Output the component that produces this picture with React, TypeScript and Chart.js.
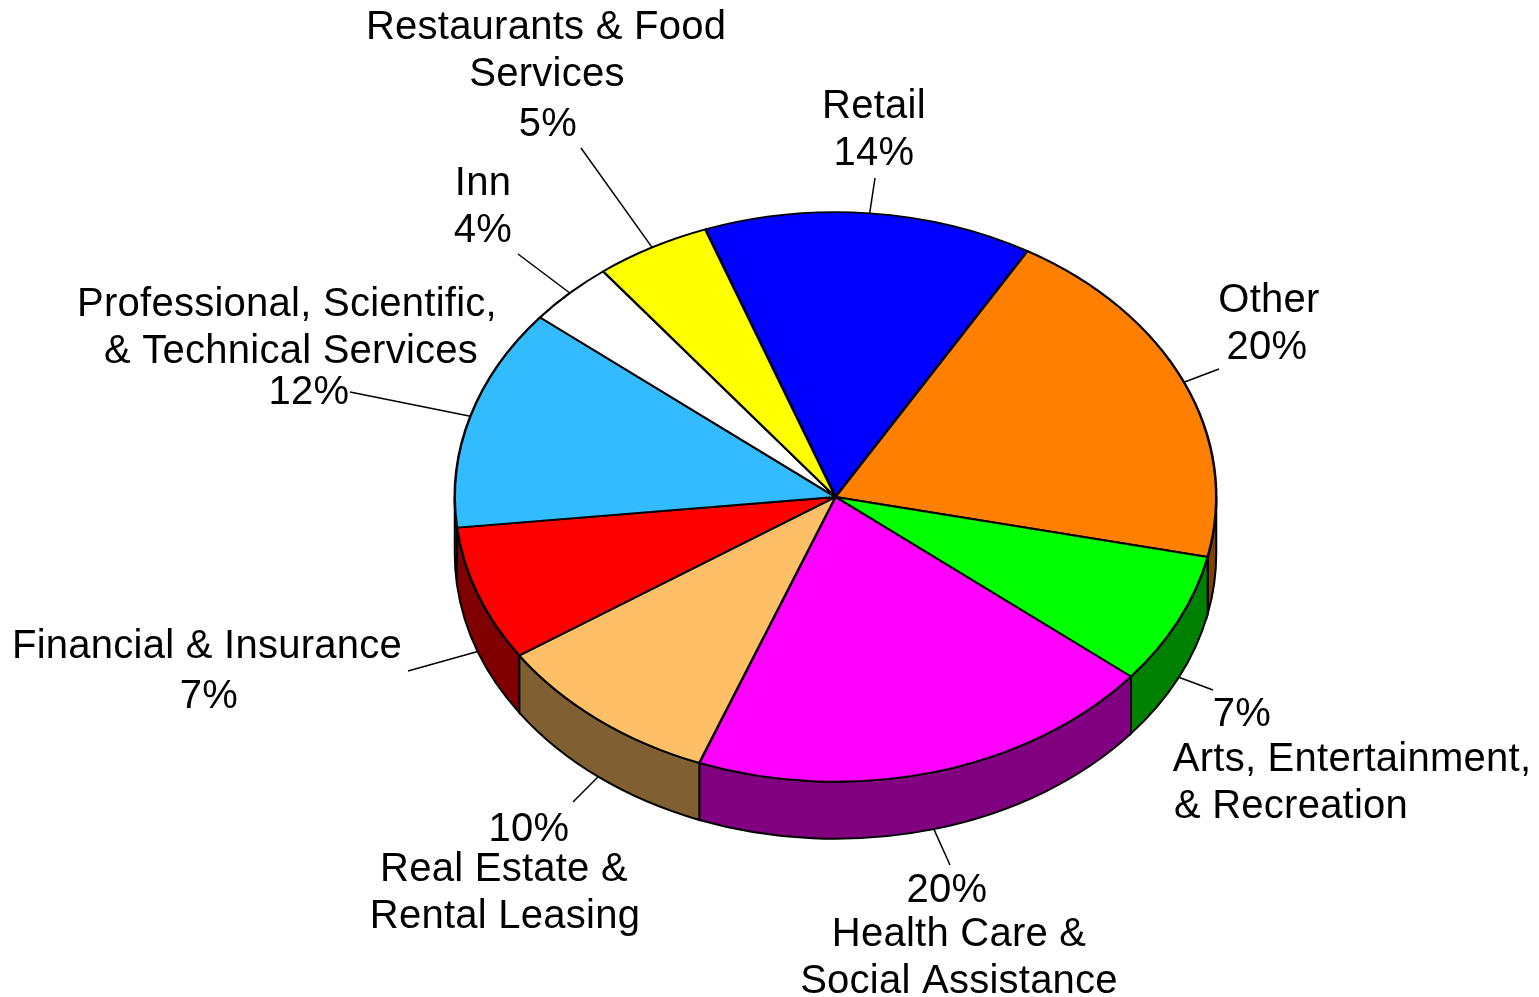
import React, { useEffect, useRef } from "react";
import { Chart, registerables } from "chart.js";

Chart.register(...registerables);

const categories = ["Retail", "Other", "Arts, Entertainment, & Recreation", "Health Care & Social Assistance", "Real Estate & Rental Leasing", "Financial & Insurance", "Professional, Scientific, & Technical Services", "Inn", "Restaurants & Food Services"];
const shares = [14, 20, 7.5, 20, 9.8, 7.7, 12.6, 3.7, 4.9];
const topColors = ["#0000FF", "#FF8000", "#00FF00", "#FF00FF", "#FFBF66", "#FF0000", "#33BBFF", "#FFFFFF", "#FFFF00"];
const sideColors = ["#000080", "#804000", "#008000", "#800080", "#806033", "#800000", "#1A5E80", "#808080", "#808000"];

// leader end point per category
const leaderEnds = [[875, 178], [1219, 369], [1213, 690], [950, 865], [573, 802], [408, 671], [350, 392], [518, 254], [581, 148]];
// text lines: text, centre x, baseline y
const labelLines: [string, number, number][] = [
  ["Restaurants & Food", 546, 39], ["Services", 547, 86], ["5%", 548, 136],
  ["Retail", 874, 118], ["14%", 874, 165],
  ["Inn", 483, 195], ["4%", 483, 242],
  ["Professional, Scientific,", 287, 316], ["& Technical Services", 291, 363], ["12%", 309, 404],
  ["Other", 1269, 312], ["20%", 1267, 359],
  ["Financial & Insurance", 207, 658], ["7%", 209, 708],
  ["7%", 1242, 726], ["Arts, Entertainment,", 1352, 771], ["& Recreation", 1291, 818],
  ["10%", 529, 841], ["Real Estate &", 504, 881], ["Rental Leasing", 505, 928],
  ["20%", 947, 902], ["Health Care &", 959, 946], ["Social Assistance", 959, 993],
];

const SQUASH = 0.748;
const DEPTH = 57;

const pie3d = {
  id: "pie3d",
  beforeDatasetsDraw(chart: any) {
    const ctx = chart.ctx;
    const arcs = chart.getDatasetMeta(0).data;
    ctx.save();
    arcs.forEach((el: any, i: number) => {
      const a0 = Math.max(el.startAngle, 0);
      const a1 = Math.min(el.endAngle, Math.PI);
      if (a1 <= a0) return;
      const ry = el.outerRadius * SQUASH;
      const cy = el.y * 1;
      ctx.beginPath();
      ctx.ellipse(el.x, cy, el.outerRadius, ry, 0, a0, a1);
      ctx.ellipse(el.x, cy + DEPTH, el.outerRadius, ry, 0, a1, a0, true);
      ctx.closePath();
      ctx.fillStyle = sideColors[i];
      ctx.fill();
      ctx.lineWidth = 2;
      ctx.strokeStyle = "#000";
      ctx.stroke();
    });
    ctx.restore();
    ctx.save();
    const first = arcs[0];
    ctx.translate(first.x, first.y);
    ctx.scale(1, SQUASH);
    ctx.translate(-first.x, -first.y);
  },
  afterDatasetsDraw(chart: any) {
    const ctx = chart.ctx;
    ctx.restore();
    const arcs = chart.getDatasetMeta(0).data;
    ctx.save();
    ctx.strokeStyle = "#000";
    ctx.lineWidth = 1.5;
    arcs.forEach((el: any, i: number) => {
      const mid = (el.startAngle + el.endAngle) / 2;
      const sx = el.x + el.outerRadius * Math.cos(mid);
      let sy = el.y + el.outerRadius * SQUASH * Math.sin(mid);
      if (Math.sin(mid) > 0) sy += DEPTH;
      ctx.beginPath();
      ctx.moveTo(sx, sy);
      ctx.lineTo(leaderEnds[i][0], leaderEnds[i][1]);
      ctx.stroke();
    });
    ctx.fillStyle = "#000";
    ctx.font = "40px 'Liberation Sans', Arial, sans-serif";
    ctx.letterSpacing = "0.25px";
    ctx.textAlign = "center";
    ctx.textBaseline = "alphabetic";
    labelLines.forEach(([t, x, y]) => ctx.fillText(t, x, y));
    ctx.restore();
  },
};

export default function App() {
  const ref = useRef<HTMLCanvasElement>(null);
  useEffect(() => {
    const chart = new Chart(ref.current!, {
      type: "pie",
      data: {
        labels: categories,
        datasets: [{ data: shares, backgroundColor: topColors, borderColor: "#000", borderWidth: 2.5, clip: false } as any],
      },
      options: {
        animation: false,
        responsive: false,
        rotation: -20,
        layout: { padding: { left: 453.5, right: 321.5, top: 115, bottom: 118 } },
        plugins: { legend: { display: false }, tooltip: { enabled: false }, title: { display: false } },
      },
      plugins: [pie3d],
    });
    return () => chart.destroy();
  }, []);
  return (
    <div style={{ position: "absolute", left: 0, top: 0, width: 1539, height: 997, background: "#fff" }}>
      <canvas ref={ref} width={1539} height={997} style={{ display: "block" }} />
    </div>
  );
}
